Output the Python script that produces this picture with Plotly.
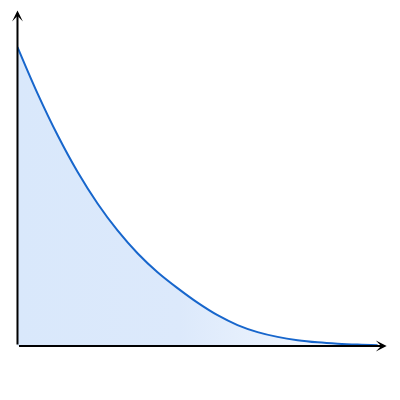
import plotly.graph_objects as go

# Curve values
x_vals = [0.0, 0.567, 1.135, 1.702, 2.27, 2.837, 3.404, 3.972, 4.539, 5.106,
          5.674, 6.241, 6.809, 7.376, 7.943, 8.511, 9.078, 9.645, 10.213]
y_vals = [10.0, 8.452, 7.057, 5.829, 4.769, 3.866, 3.104, 2.468, 1.936, 1.450,
          1.030, 0.700, 0.465, 0.305, 0.196, 0.124, 0.077, 0.046, 0.027]

x_min, x_max = -0.014, 10.48
y_max = 11.24

fig = go.Figure()
fig.add_trace(go.Scatter(
    x=x_vals, y=y_vals, mode="lines",
    line=dict(color="#1766cc", width=2, shape="spline", smoothing=1.0),
    fill="tozeroy",
    fillgradient=dict(type="horizontal",
                      colorscale=[[0, "#d9e8fb"], [0.45, "#dce9fb"], [0.75, "#ecf3fd"], [1, "#ffffff"]]),
    hoverinfo="skip", showlegend=False,
))

arrow = dict(showarrow=True, arrowhead=3, arrowsize=0.9, arrowwidth=2, arrowcolor="#000000",
             xref="x", yref="y", axref="x", ayref="y", text="")
fig.add_annotation(x=10.47, y=0, ax=0, ay=0, **arrow)
fig.add_annotation(x=0, y=11.22, ax=0, ay=0, **arrow)

fig.update_layout(
    width=392, height=392,
    margin=dict(l=9, r=13, t=2, b=54),
    paper_bgcolor="white", plot_bgcolor="white",
    xaxis=dict(range=[x_min, x_max], visible=False, fixedrange=True),
    yaxis=dict(range=[0, y_max], visible=False, fixedrange=True),
)

fig.write_html("out.html", config={"displayModeBar": False})
